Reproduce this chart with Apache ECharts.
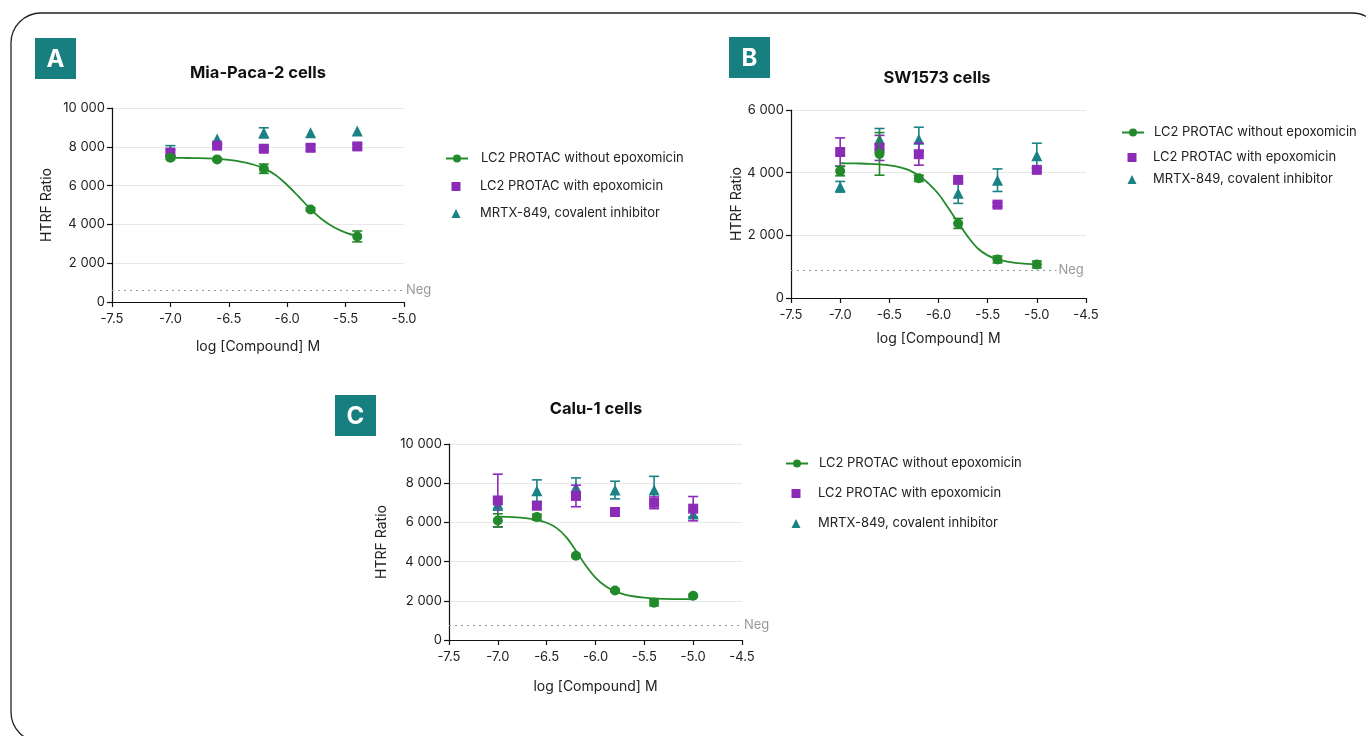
<!DOCTYPE html>
<html>
<head>
<meta charset="utf-8">
<script src="https://cdn.jsdelivr.net/npm/echarts@6/dist/echarts.min.js"></script>
<style>
html,body{margin:0;padding:0;background:#fff;}
#chart{width:1366px;height:736px;}
</style>
</head>
<body>
<div id="chart"></div>
<script>
// ---------------- DATA ----------------
const seriesNames = ['LC2 PROTAC without epoxomicin', 'LC2 PROTAC with epoxomicin', 'MRTX-849, covalent inhibitor'];
const panelTitles = ['Mia-Paca-2 cells', 'SW1573 cells', 'Calu-1 cells'];
const panelLetters = ['A', 'B', 'C'];
const xAxisName = 'log [Compound] M';
const yAxisName = 'HTRF Ratio';
const negLabel = 'Neg';

// Panel A (Mia-Paca-2)
const doseA = [-7.0, -6.6, -6.2, -5.8, -5.4];
const aGreen = [7440, 7350, 6870, 4770, 3380];
const aGreenErr = [100, 60, 240, 80, 280];
const aPurple = [7700, 8060, 7900, 7950, 8020];
const aPurpleErr = [150, 80, 80, 150, 120];
const aTeal = [7800, 8400, 8720, 8720, 8820];
const aTealErr = [260, 0, 260, 0, 0];
const aCurveX = [-7.0, -6.9, -6.8, -6.7, -6.6, -6.5, -6.4, -6.3, -6.2, -6.1, -6.0, -5.9, -5.8, -5.7, -5.6, -5.5, -5.4];
const aCurveY = [7430, 7425, 7420, 7405, 7380, 7330, 7240, 7100, 6890, 6550, 6030, 5420, 4790, 4250, 3850, 3580, 3400];
const aNeg = 600;

// Panel B (SW1573)
const doseB = [-7.0, -6.6, -6.2, -5.8, -5.4, -5.0];
const bGreen = [4050, 4600, 3820, 2380, 1230, 1070];
const bGreenErr = [150, 680, 100, 160, 110, 110];
const bPurple = [4660, 4790, 4590, 3770, 2980, 4090];
const bPurpleErr = [450, 400, 350, 60, 60, 60];
const bTeal = [3550, 5070, 5070, 3340, 3760, 4540];
const bTealErr = [170, 340, 380, 320, 360, 400];
const bCurveX = [-7.0, -6.9, -6.8, -6.7, -6.6, -6.5, -6.4, -6.3, -6.2, -6.1, -6.0, -5.9, -5.8, -5.7, -5.6, -5.5, -5.4, -5.3, -5.2, -5.1, -5.0];
const bCurveY = [4300, 4298, 4292, 4282, 4265, 4235, 4180, 4080, 3900, 3650, 3320, 2870, 2400, 1950, 1580, 1360, 1230, 1160, 1115, 1090, 1075];
const bNeg = 880;

// Panel C (Calu-1)
const doseC = [-7.0, -6.6, -6.2, -5.8, -5.4, -5.0];
const cGreen = [6100, 6270, 4300, 2530, 1900, 2260];
const cGreenErr = [340, 150, 60, 60, 150, 60];
const cPurple = [7120, 6850, 7350, 6530, 7000, 6700];
const cPurpleErr = [1340, 150, 550, 150, 300, 620];
const cTeal = [6920, 7620, 7790, 7650, 7650, 6430];
const cTealErr = [300, 550, 480, 450, 700, 150];
const cCurveX = [-7.0, -6.9, -6.8, -6.7, -6.6, -6.5, -6.4, -6.3, -6.2, -6.1, -6.0, -5.9, -5.8, -5.7, -5.6, -5.5, -5.4, -5.3, -5.2, -5.1, -5.0];
const cCurveY = [6290, 6280, 6255, 6210, 6130, 5980, 5720, 5250, 4550, 3800, 3180, 2750, 2480, 2320, 2220, 2160, 2120, 2100, 2090, 2085, 2080];
const cNeg = 760;

// axis ranges
const xMin = [-7.5, -7.5, -7.5];
const xMax = [-5.0, -4.5, -4.5];
const yMax = [10000, 6000, 10000];
const negEnd = [-5.0, -4.8, -4.5];

// ---------------- STYLE ----------------
const GREEN = '#238a2b';
const PURPLE = '#8c2bb7';
const TEAL = '#1a8285';
const BADGE = '#177f80';
const FONT = 'Inter';
const TXT = '#222';

const grids = [
  {left: 112, top: 108, width: 292, height: 194},
  {left: 791, top: 110, width: 295, height: 188},
  {left: 449, top: 444, width: 293, height: 196}
];
const yNameGap = [58, 46, 60];
const xNameGap = [38, 34, 40];

const fmtY = v => String(v).replace(/\B(?=(\d{3})+(?!\d))/g, ' ');

const xAxes = grids.map((g, i) => ({
  type: 'value', gridIndex: i, min: xMin[i], max: xMax[i], interval: 0.5,
  name: xAxisName, nameLocation: 'middle', nameGap: xNameGap[i],
  nameTextStyle: {fontFamily: FONT, fontSize: 14, color: TXT},
  axisLine: {show: true, onZero: false, lineStyle: {color: '#111', width: 1.2}},
  axisTick: {show: true, length: 5, lineStyle: {color: '#111', width: 1.2}},
  axisLabel: {fontFamily: FONT, fontSize: 13, color: TXT, margin: 11, formatter: v => v.toFixed(1)},
  splitLine: {show: false}
}));
const yAxes = grids.map((g, i) => ({
  type: 'value', gridIndex: i, min: 0, max: yMax[i], interval: 2000,
  name: yAxisName, nameLocation: 'middle', nameGap: yNameGap[i],
  nameTextStyle: {fontFamily: FONT, fontSize: 14, color: TXT},
  axisLine: {show: true, lineStyle: {color: '#111', width: 1.2}},
  axisTick: {show: true, length: 5, lineStyle: {color: '#111', width: 1.2}},
  axisLabel: {fontFamily: FONT, fontSize: 13, color: TXT, margin: 7, formatter: fmtY},
  splitLine: {show: true, lineStyle: {color: '#e8e8e8', width: 1.2}}
}));

function errSeries(idx, xs, ys, errs, color, z) {
  const data = [];
  xs.forEach((x, i) => { if (errs[i] > 0) data.push([x, ys[i] - errs[i], ys[i] + errs[i]]); });
  return {
    type: 'custom', name: 'err' + idx + color, xAxisIndex: idx, yAxisIndex: idx, z: z, silent: true,
    encode: {x: 0, y: [1, 2]},
    renderItem: function (params, api) {
      const lo = api.coord([api.value(0), api.value(1)]);
      const hi = api.coord([api.value(0), api.value(2)]);
      const w = 5;
      const st = {stroke: color, lineWidth: 1.6, fill: 'none'};
      return {type: 'group', children: [
        {type: 'line', shape: {x1: lo[0], y1: lo[1], x2: hi[0], y2: hi[1]}, style: st},
        {type: 'line', shape: {x1: lo[0] - w, y1: lo[1], x2: lo[0] + w, y2: lo[1]}, style: st},
        {type: 'line', shape: {x1: hi[0] - w, y1: hi[1], x2: hi[0] + w, y2: hi[1]}, style: st}
      ]};
    },
    data: data
  };
}

function zip(a, b) { return a.map((v, i) => [v, b[i]]); }

const panels = [
  {dose: doseA, g: aGreen, ge: aGreenErr, p: aPurple, pe: aPurpleErr, t: aTeal, te: aTealErr, cx: aCurveX, cy: aCurveY, neg: aNeg},
  {dose: doseB, g: bGreen, ge: bGreenErr, p: bPurple, pe: bPurpleErr, t: bTeal, te: bTealErr, cx: bCurveX, cy: bCurveY, neg: bNeg},
  {dose: doseC, g: cGreen, ge: cGreenErr, p: cPurple, pe: cPurpleErr, t: cTeal, te: cTealErr, cx: cCurveX, cy: cCurveY, neg: cNeg}
];

const series = [];
panels.forEach((P, i) => {
  series.push({
    type: 'line', name: seriesNames[0], xAxisIndex: i, yAxisIndex: i, z: 6,
    data: zip(P.cx, P.cy), smooth: 0.35,
    symbol: 'circle', symbolSize: 8, showSymbol: false,
    itemStyle: {color: GREEN}, lineStyle: {color: GREEN, width: 1.8},
    silent: true,
    markLine: {
      silent: true, symbol: ['none', 'none'],
      lineStyle: {type: [2, 4], color: '#9a9a9a', width: 1.2},
      label: {show: true, position: 'end', formatter: negLabel, color: '#999', fontFamily: FONT, fontSize: 13, distance: 2},
      data: [[{coord: [xMin[i], P.neg]}, {coord: [negEnd[i], P.neg]}]]
    }
  });
  series.push(errSeries(i, P.dose, P.t, P.te, TEAL, 2));
  series.push({type: 'scatter', name: seriesNames[2], xAxisIndex: i, yAxisIndex: i, z: 3,
    symbol: 'triangle', symbolSize: 11, itemStyle: {color: TEAL, opacity: 1}, data: zip(P.dose, P.t)});
  series.push(errSeries(i, P.dose, P.p, P.pe, PURPLE, 4));
  series.push({type: 'scatter', name: seriesNames[1], xAxisIndex: i, yAxisIndex: i, z: 5,
    symbol: 'rect', symbolSize: 10, itemStyle: {color: PURPLE, opacity: 1}, data: zip(P.dose, P.p)});
  series.push(errSeries(i, P.dose, P.g, P.ge, GREEN, 7));
  series.push({type: 'scatter', name: seriesNames[0], xAxisIndex: i, yAxisIndex: i, z: 8,
    symbol: 'circle', symbolSize: 10, itemStyle: {color: GREEN, opacity: 1}, data: zip(P.dose, P.g)});
});

// legend placement: line start x, text start x, row centres
const legendPos = [
  {lineX: 445, textX: 480, rows: [157, 185, 212]},
  {lineX: 1121, textX: 1153, rows: [131, 156, 178]},
  {lineX: 785, textX: 818, rows: [462, 492, 522]}
];
const LINE_W = 22, SYM = 9;
const legends = [];
legendPos.forEach(L => {
  seriesNames.forEach((nm, k) => {
    const isLine = k === 0;
    const iw = isLine ? LINE_W : SYM;
    const iconX = isLine ? L.lineX : L.lineX + LINE_W / 2 - SYM / 2;
    const left = iconX - 5;
    const pad = L.textX - (iconX + iw + 5);
    const item = {name: nm};
    if (k === 1) item.icon = 'rect';
    if (k === 2) item.icon = 'triangle';
    legends.push({
      orient: 'vertical', left: left, top: L.rows[k] - 10,
      itemWidth: iw, itemHeight: isLine ? 10 : SYM, selectedMode: false,
      data: [item],
      textStyle: {fontFamily: FONT, fontSize: 13, color: TXT, padding: [0, 0, 0, pad]}
    });
  });
});

const badgePos = [[35, 38], [729, 37], [335, 395]];
const titlePos = [[258, 73], [937, 78], [596, 409]];

const graphic = [
  {type: 'rect', silent: true, shape: {x: 11, y: 13, width: 1371, height: 729, r: 30},
   style: {fill: 'none', stroke: '#222', lineWidth: 1.3}}
];
badgePos.forEach((b, i) => {
  graphic.push({type: 'rect', shape: {x: b[0], y: b[1], width: 41, height: 41}, style: {fill: BADGE}});
  graphic.push({type: 'text', x: b[0] + 20.5, y: b[1] + 21.5,
    style: {text: panelLetters[i], fill: '#fff', font: 'bold 24px ' + FONT, textAlign: 'center', textVerticalAlign: 'middle'}});
});
titlePos.forEach((t, i) => {
  graphic.push({type: 'text', x: t[0], y: t[1],
    style: {text: panelTitles[i], fill: '#111', font: 'bold 16.5px ' + FONT, textAlign: 'center', textVerticalAlign: 'middle'}});
});

const chart = echarts.init(document.getElementById('chart'), null, {renderer: 'canvas'});
chart.setOption({
  animation: false,
  backgroundColor: '#fff',
  grid: grids.map(g => Object.assign({containLabel: false}, g)),
  xAxis: xAxes,
  yAxis: yAxes,
  legend: legends,
  series: series,
  graphic: graphic
});
</script>
</body>
</html>
